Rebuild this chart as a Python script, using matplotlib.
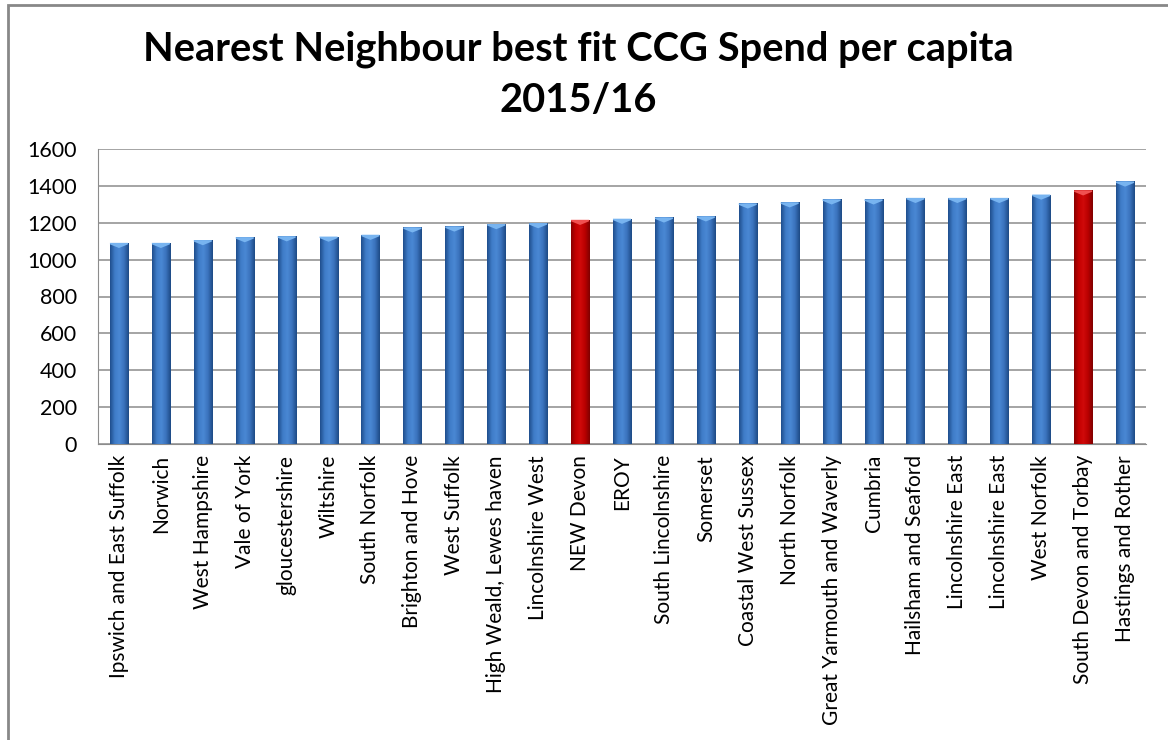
import matplotlib
matplotlib.use("Agg")
import matplotlib.pyplot as plt
import numpy as np
from matplotlib.colors import LinearSegmentedColormap
from matplotlib.patches import Rectangle, Polygon

categories = ["Ipswich and East Suffolk", "Norwich", "West Hampshire", "Vale of York",
              "gloucestershire", "Wiltshire", "South Norfolk", "Brighton and Hove",
              "West Suffolk", "High Weald, Lewes haven", "Lincolnshire West", "NEW Devon",
              "EROY", "South Lincolnshire", "Somerset", "Coastal West Sussex",
              "North Norfolk", "Great Yarmouth and Waverly", "Cumbria",
              "Hailsham and Seaford", "Lincolnshire East", "Lincolnshire East",
              "West Norfolk", "South Devon and Torbay", "Hastings and Rother"]
values = [1091, 1091, 1106, 1122, 1127, 1125, 1135, 1175, 1180, 1193, 1198, 1216,
          1222, 1229, 1235, 1305, 1311, 1327, 1327, 1335, 1335, 1335, 1353, 1376, 1424]
highlight = ["NEW Devon", "South Devon and Torbay"]
title = "Nearest Neighbour best fit CCG Spend per capita\n2015/16"
yticks = [0, 200, 400, 600, 800, 1000, 1200, 1400, 1600]

plt.rcParams['font.family'] = ['Lato', 'DejaVu Sans']

fig = plt.figure(figsize=(11.68, 7.4), dpi=100)
ax = fig.add_axes([98/1168, 1-444/740, (1146-98)/1168, (444-149)/740])

blue_cmap = LinearSegmentedColormap.from_list("b", ["#1F4E8C", "#3F7CC8", "#4A88D4", "#3A72BC", "#1D4A85"])
red_cmap = LinearSegmentedColormap.from_list("r", ["#8A0000", "#C40000", "#D00A0A", "#B80000", "#800000"])

x = np.arange(len(categories))
width = 0.43
colors = ["#C00000" if c in highlight else "#3A72BC" for c in categories]
bars = ax.bar(x, values, width=width, color=colors, edgecolor="none", zorder=2)
grad = np.linspace(0, 1, 64).reshape(1, -1)
for b, c in zip(bars, categories):
    hl = c in highlight
    cmap = red_cmap if hl else blue_cmap
    x0, y0 = b.get_x(), b.get_y()
    w, h = b.get_width(), b.get_height()
    im = ax.imshow(grad, cmap=cmap, aspect="auto", extent=(x0, x0 + w, y0, y0 + h),
                   zorder=3, interpolation="bilinear")
    im.set_clip_path(b)
    top = y0 + h
    bevel = Polygon([(x0, top), (x0 + w, top), (x0 + w, top - 8), (x0 + w / 2, top - 28),
                     (x0, top - 8)], closed=True,
                    facecolor=("#F05050" if hl else "#78B4F0"), edgecolor="none", zorder=4)
    ax.add_patch(bevel)

ax.set_xlim(-0.5, len(categories) - 0.5)
ax.set_ylim(0, 1600)
ax.set_yticks(yticks)
ax.set_yticklabels([str(v) for v in yticks], fontsize=15.5)
ax.set_xticks(x)
ax.set_xticklabels(categories, rotation=90, fontsize=15, va="top", ha="center")
ax.tick_params(axis="y", length=0, pad=15)
ax.tick_params(axis="x", length=0, pad=8)
ax.grid(axis="y", color="#8C8C8C", linewidth=1.1, zorder=0)
ax.set_axisbelow(True)
for s in ["top", "right"]:
    ax.spines[s].set_visible(False)
ax.spines["left"].set_color("#8C8C8C")
ax.spines["bottom"].set_color("#8C8C8C")

fig.text(578/1168, 1 - 75/740, title, ha="center", va="center", fontsize=28.7,
         fontweight="bold", linespacing=1.45)

# chart frame
fig.add_artist(Rectangle((8/1168, -0.05), 1.2, 1 - 5/740 + 0.05, transform=fig.transFigure,
                         fill=False, edgecolor="#888888", linewidth=2))

fig.savefig("out.png", dpi=100, facecolor="white")
